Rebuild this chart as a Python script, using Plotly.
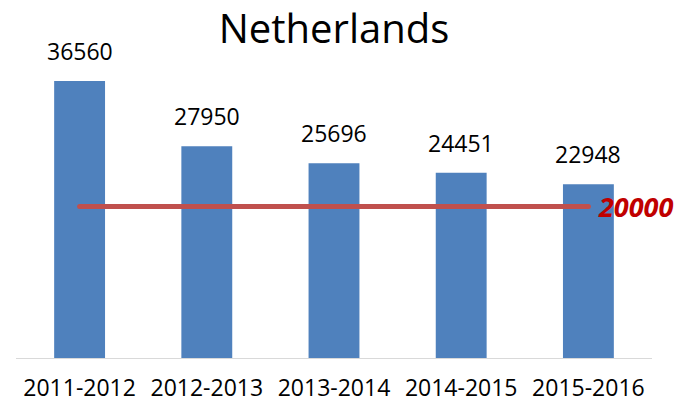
import plotly.graph_objects as go

categories = ["2011-2012", "2012-2013", "2013-2014", "2014-2015", "2015-2016"]
values = [36560, 27950, 25696, 24451, 22948]
target = 20000
target_label = "20000"

FONT = "Open Sans"

fig = go.Figure()
fig.add_trace(go.Bar(
    x=categories, y=values,
    marker=dict(color="#4F81BD", line=dict(width=0)),
    hoverinfo="skip", showlegend=False,
))
fig.add_trace(go.Scatter(
    x=[categories[0], categories[-1]], y=[target, target],
    mode="lines+markers",
    line=dict(color="#C0504D", width=5),
    marker=dict(color="#C0504D", size=5),
    hoverinfo="skip", showlegend=False,
))

annotations = []
for c, v in zip(categories, values):
    annotations.append(dict(
        x=c, y=v, xref="x", yref="y", text=str(v), showarrow=False,
        yanchor="bottom", yshift=12,
        font=dict(family=FONT, size=23, color="#000000"),
    ))
annotations.append(dict(
    x=categories[-1], y=target, xref="x", yref="y",
    text="<b><i>" + target_label + "</i></b>", showarrow=False,
    xanchor="left", xshift=8, yanchor="middle",
    font=dict(family=FONT, size=27, color="#C00000"),
))

fig.update_layout(
    width=683, height=403,
    margin=dict(l=16, r=31, t=50, b=45, autoexpand=False),
    paper_bgcolor="white", plot_bgcolor="white",
    bargap=0.6,
    title=dict(text="Netherlands", x=0.5, xref="paper", xanchor="center",
               y=0.928, yref="container", yanchor="middle",
               font=dict(family=FONT, size=40, color="#000000")),
    annotations=annotations,
    xaxis=dict(showline=True, linecolor="#D9D9D9", linewidth=1,
               range=[-0.5, len(categories) - 0.5], autorange=False,
               showgrid=False, zeroline=False, ticks="", automargin=False,
               ticklabelstandoff=9,
               tickfont=dict(family=FONT, size=23, color="#000000")),
    yaxis=dict(range=[0, 40650], visible=False, showgrid=False, zeroline=False,
               automargin=False),
)

fig.write_html(
    "out.html",
    config={"displayModeBar": False, "staticPlot": True},
    post_script="document.body.style.margin='0';document.body.style.overflow='hidden';",
)
